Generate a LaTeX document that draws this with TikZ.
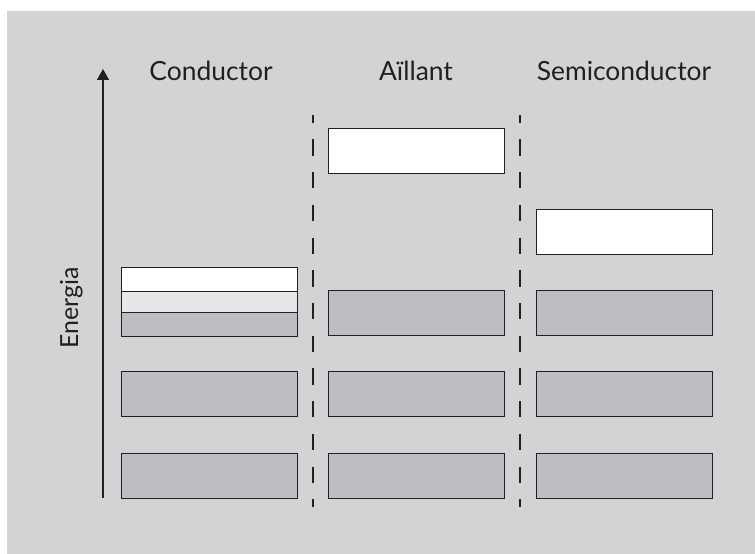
\documentclass[tikz,border=0pt]{standalone}
\usepackage{fontspec}
\setmainfont{Lato}
\usetikzlibrary{arrows.meta}
\definecolor{bggrey}{HTML}{D2D3D5}
\definecolor{bandgrey}{HTML}{BDBEC1}
\definecolor{bandlight}{HTML}{E6E7E8}
\definecolor{ink}{HTML}{231F20}
\tikzset{
  band/.style={draw=ink, line width=1.4bp, inner sep=0pt, minimum width=176bp, minimum height=45bp, anchor=north west},
  full/.style={band, fill=bandgrey},
  empty/.style={band, fill=white},
  sep/.style={draw=ink, line width=1.4bp, dash pattern=on 16.3bp off 16.4bp, dash phase=8.2bp},
  title/.style={font=\fontsize{26.5}{30}\selectfont, text=ink, anchor=base, inner sep=0pt},
}
\begin{document}
\begin{tikzpicture}[x=1bp,y=-1bp]
\useasboundingbox (0,0) rectangle (755,554);
\fill[bggrey] (7,11) rectangle (755,554);
% axis
\coordinate (ab) at (103,498);
\coordinate (at) at (103,69);
\draw[ink, line width=1.4bp, -{Triangle[width=12bp,length=11bp]}] (ab) -- (at);
\node[title, rotate=90, font=\fontsize{25}{30}\selectfont] (energia) at (78,308) {Energia};
% titles
\node[title] (tc) at (211,81) {Conductor};
\node[title] (ta) at (416,81) {Aïllant};
\node[title] (ts) at (624,81) {Semiconductor};
% separators
\coordinate (s1t) at (313,115);
\coordinate (s1b) at (313,507);
\coordinate (s2t) at (520,115);
\coordinate (s2b) at (520,507);
\draw[sep] (s1t) -- (s1b);
\draw[sep] (s2t) -- (s2b);
% conductor
\node[full] (c1) at (121,453) {};
\node[full] (c2) at (121,371) {};
\node[band, fill=white, minimum height=24bp] (c3a) at (121,267) {};
\node[band, fill=bandlight, minimum height=21bp] (c3b) at (121,291) {};
\node[band, fill=bandgrey, minimum height=24bp] (c3c) at (121,312) {};
% aillant
\node[full] (a1) at (328,453) {};
\node[full] (a2) at (328,371) {};
\node[full] (a3) at (328,290) {};
\node[empty] (a4) at (328,128) {};
% semiconductor
\node[full] (s1) at (536,453) {};
\node[full] (s2) at (536,371) {};
\node[full] (s3) at (536,290) {};
\node[empty] (s4) at (536,209) {};
\end{tikzpicture}
\end{document}
